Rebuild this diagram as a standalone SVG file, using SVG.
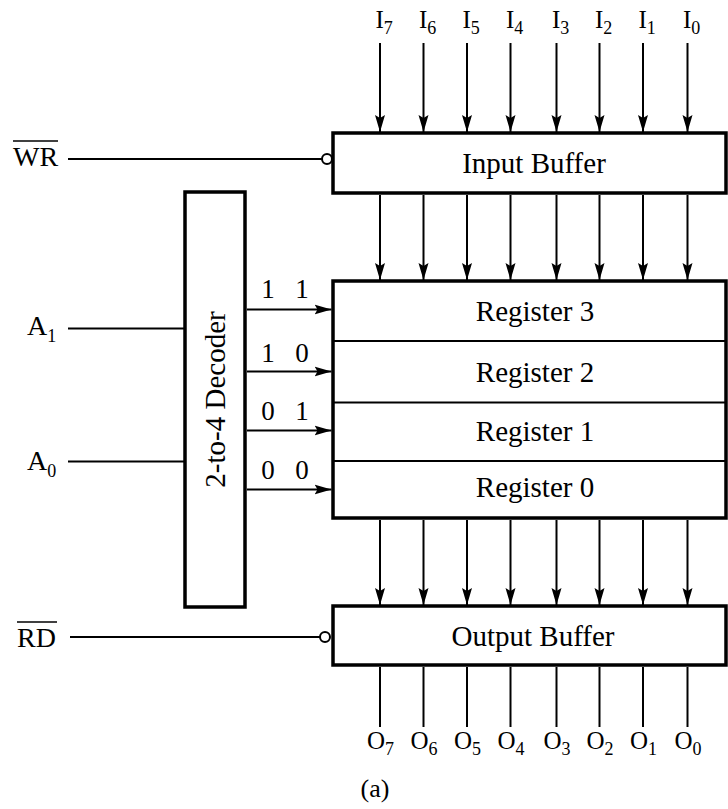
<svg xmlns="http://www.w3.org/2000/svg" width="728" height="809" viewBox="0 0 728 809">
  <style>
    .box { fill: #fff; stroke: #000; stroke-width: 3.5; }
    .div { stroke: #000; stroke-width: 2; }
    .wire { stroke: #000; stroke-width: 2; fill: none; }
    .arrow { stroke: #000; stroke-width: 2; fill: none; marker-end: url(#head); }
    .bubble { fill: #fff; stroke: #000; stroke-width: 2; }
    text { font-family: "Liberation Serif", "Times New Roman", serif; fill: #000; }
    .blk { font-size: 29px; text-anchor: middle; }
    .sig { font-size: 28px; }
    .pin { font-size: 25px; }
    .sub { font-size: 18px; }
    .code { font-size: 27px; text-anchor: middle; }
  </style>
  <defs>
    <marker id="head" viewBox="0 0 17 11" refX="17" refY="5.5" markerWidth="17" markerHeight="11" markerUnits="userSpaceOnUse" orient="auto">
      <path d="M0,0.5 L17,5.5 L0,10.5 L3,5.5 Z" fill="#000"/>
    </marker>
  </defs>
  <rect width="728" height="809" fill="#fff"/>

  <!-- connectors -->
  <g id="connectors">
    <!-- data inputs into the input buffer -->
    <line class="arrow" x1="380" y1="43" x2="380" y2="132"/>
    <line class="arrow" x1="423.5" y1="43" x2="423.5" y2="132"/>
    <line class="arrow" x1="467" y1="43" x2="467" y2="132"/>
    <line class="arrow" x1="510.5" y1="43" x2="510.5" y2="132"/>
    <line class="arrow" x1="556.5" y1="43" x2="556.5" y2="132"/>
    <line class="arrow" x1="599.5" y1="43" x2="599.5" y2="132"/>
    <line class="arrow" x1="643" y1="43" x2="643" y2="132"/>
    <line class="arrow" x1="687.5" y1="43" x2="687.5" y2="132"/>
    <!-- input buffer to registers -->
    <line class="arrow" x1="380" y1="195" x2="380" y2="280"/>
    <line class="arrow" x1="423.5" y1="195" x2="423.5" y2="280"/>
    <line class="arrow" x1="467" y1="195" x2="467" y2="280"/>
    <line class="arrow" x1="510.5" y1="195" x2="510.5" y2="280"/>
    <line class="arrow" x1="556.5" y1="195" x2="556.5" y2="280"/>
    <line class="arrow" x1="599.5" y1="195" x2="599.5" y2="280"/>
    <line class="arrow" x1="643" y1="195" x2="643" y2="280"/>
    <line class="arrow" x1="687.5" y1="195" x2="687.5" y2="280"/>
    <!-- registers to output buffer -->
    <line class="arrow" x1="380" y1="520" x2="380" y2="605"/>
    <line class="arrow" x1="423.5" y1="520" x2="423.5" y2="605"/>
    <line class="arrow" x1="467" y1="520" x2="467" y2="605"/>
    <line class="arrow" x1="510.5" y1="520" x2="510.5" y2="605"/>
    <line class="arrow" x1="556.5" y1="520" x2="556.5" y2="605"/>
    <line class="arrow" x1="599.5" y1="520" x2="599.5" y2="605"/>
    <line class="arrow" x1="643" y1="520" x2="643" y2="605"/>
    <line class="arrow" x1="687.5" y1="520" x2="687.5" y2="605"/>
    <!-- data outputs -->
    <line class="wire" x1="380" y1="667" x2="380" y2="727"/>
    <line class="wire" x1="423.5" y1="667" x2="423.5" y2="727"/>
    <line class="wire" x1="467" y1="667" x2="467" y2="727"/>
    <line class="wire" x1="510.5" y1="667" x2="510.5" y2="727"/>
    <line class="wire" x1="556.5" y1="667" x2="556.5" y2="727"/>
    <line class="wire" x1="599.5" y1="667" x2="599.5" y2="727"/>
    <line class="wire" x1="643" y1="667" x2="643" y2="727"/>
    <line class="wire" x1="687.5" y1="667" x2="687.5" y2="727"/>
    <!-- control lines -->
    <line class="wire" x1="68" y1="159" x2="322" y2="159"/>
    <circle class="bubble" cx="327" cy="159" r="5"/>
    <line class="wire" x1="70" y1="637" x2="320" y2="637"/>
    <circle class="bubble" cx="325" cy="637" r="5"/>
    <!-- address lines -->
    <line class="wire" x1="68" y1="328.5" x2="185" y2="328.5"/>
    <line class="wire" x1="68" y1="461.5" x2="185" y2="461.5"/>
    <!-- decoder outputs to register selects -->
    <line class="arrow" x1="247" y1="309.5" x2="331.5" y2="309.5"/>
    <line class="arrow" x1="247" y1="371.5" x2="331.5" y2="371.5"/>
    <line class="arrow" x1="247" y1="430.5" x2="331.5" y2="430.5"/>
    <line class="arrow" x1="247" y1="489.5" x2="331.5" y2="489.5"/>
    <text class="code" x="268" y="298">1</text><text class="code" x="302" y="298">1</text>
    <text class="code" x="268" y="362">1</text><text class="code" x="302" y="362">0</text>
    <text class="code" x="268" y="420">0</text><text class="code" x="302" y="420">1</text>
    <text class="code" x="268" y="479">0</text><text class="code" x="302" y="479">0</text>
  </g>

  <!-- pin names -->
  <g id="pins">
    <text class="pin" x="375.5" y="28">I<tspan class="sub" dy="6">7</tspan></text>
    <text class="pin" x="419" y="28">I<tspan class="sub" dy="6">6</tspan></text>
    <text class="pin" x="462.5" y="28">I<tspan class="sub" dy="6">5</tspan></text>
    <text class="pin" x="506" y="28">I<tspan class="sub" dy="6">4</tspan></text>
    <text class="pin" x="552" y="28">I<tspan class="sub" dy="6">3</tspan></text>
    <text class="pin" x="595" y="28">I<tspan class="sub" dy="6">2</tspan></text>
    <text class="pin" x="638.5" y="28">I<tspan class="sub" dy="6">1</tspan></text>
    <text class="pin" x="683" y="28">I<tspan class="sub" dy="6">0</tspan></text>

    <text class="pin" x="367" y="749">O<tspan class="sub" dy="6">7</tspan></text>
    <text class="pin" x="410.5" y="749">O<tspan class="sub" dy="6">6</tspan></text>
    <text class="pin" x="454" y="749">O<tspan class="sub" dy="6">5</tspan></text>
    <text class="pin" x="497.5" y="749">O<tspan class="sub" dy="6">4</tspan></text>
    <text class="pin" x="543.5" y="749">O<tspan class="sub" dy="6">3</tspan></text>
    <text class="pin" x="586.5" y="749">O<tspan class="sub" dy="6">2</tspan></text>
    <text class="pin" x="630" y="749">O<tspan class="sub" dy="6">1</tspan></text>
    <text class="pin" x="674.5" y="749">O<tspan class="sub" dy="6">0</tspan></text>

    <text class="sig" x="13" y="166">WR</text>
    <line x1="13" y1="141" x2="58" y2="141" stroke="#000" stroke-width="1.5"/>
    <text class="sig" x="17" y="647">RD</text>
    <line x1="17" y1="622" x2="57" y2="622" stroke="#000" stroke-width="1.5"/>
    <text class="sig" x="27" y="335">A<tspan class="sub" dy="7">1</tspan></text>
    <text class="sig" x="27" y="470">A<tspan class="sub" dy="7">0</tspan></text>
  </g>

  <!-- input buffer -->
  <g id="input-buffer">
    <rect class="box" x="333" y="133" width="393" height="60"/>
    <text class="blk" x="534" y="173">Input Buffer</text>
  </g>

  <!-- register file -->
  <g id="registers">
    <rect class="box" x="333" y="281" width="393" height="237"/>
    <line class="div" x1="333" y1="341" x2="726" y2="341"/>
    <line class="div" x1="333" y1="402.5" x2="726" y2="402.5"/>
    <line class="div" x1="333" y1="461" x2="726" y2="461"/>
    <text class="blk" x="535" y="320.5">Register 3</text>
    <text class="blk" x="535" y="382">Register 2</text>
    <text class="blk" x="535" y="440.5">Register 1</text>
    <text class="blk" x="535" y="497">Register 0</text>
  </g>

  <!-- address decoder -->
  <g id="decoder">
    <rect class="box" x="185" y="192" width="60" height="415" stroke-width="4"/>
    <text class="blk" font-size="30" transform="translate(225,399.5) rotate(-90)">2-to-4 Decoder</text>
  </g>

  <!-- output buffer -->
  <g id="output-buffer">
    <rect class="box" x="333" y="606" width="393" height="59"/>
    <text class="blk" x="533" y="645.5">Output Buffer</text>
  </g>

  <text x="375" y="797" font-size="26" text-anchor="middle">(a)</text>
</svg>
